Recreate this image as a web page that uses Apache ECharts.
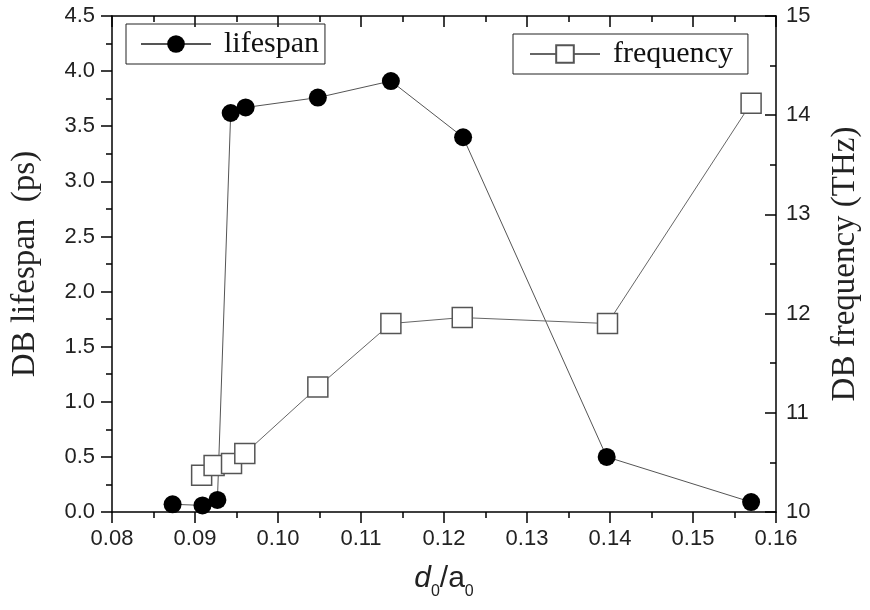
<!DOCTYPE html>
<html>
<head>
<meta charset="utf-8">
<script src="https://cdn.jsdelivr.net/npm/echarts@6/dist/echarts.min.js"></script>
<style>
    html, body { margin: 0; padding: 0; background: #fff; }
    #chart { width: 870px; height: 610px; }
</style>
</head>
<body>
<div id="chart"></div>
<script>
// d0/a0 positions and values
var lifeX = [0.0873, 0.0909, 0.0927, 0.0943, 0.0961, 0.1048, 0.1136, 0.1223, 0.1396, 0.1570];
var lifeY = [0.07, 0.06, 0.11, 3.62, 3.67, 3.76, 3.91, 3.40, 0.50, 0.09];

var freqX = [0.0908, 0.0923, 0.0944, 0.0960, 0.1048, 0.1136, 0.1222, 0.1397, 0.1570];
var freqY = [10.37, 10.47, 10.49, 10.59, 11.26, 11.90, 11.96, 11.90, 14.12];

var seriesNames = ['lifespan', 'frequency'];

(function () {
    var sans = 'Liberation Sans';
    var serif = 'Liberation Serif';

    function pairs(xs, ys) {
        return xs.map(function (x, i) { return [x, ys[i]]; });
    }

    function extend(a, b) {
        for (var k in b) { a[k] = b[k]; }
        return a;
    }

    //common axis look
    var line = { show: true, onZero: false, lineStyle: { color: '#000', width: 1.5 } };
    function tick(inside) {
        return { show: true, inside: inside, length: 11, lineStyle: { color: '#000', width: 1.5 } };
    }
    var minor = { show: true, splitNumber: 2, length: 6, lineStyle: { color: '#000', width: 1.5 } };
    var label = { fontFamily: sans, fontSize: 22, color: '#222' };

    function legendBox(name, left, top, pad) {
        return {
            data: [name],
            left: left,
            top: top,
            selectedMode: false,
            itemWidth: 70,
            itemHeight: 22,
            padding: pad,
            borderColor: '#222',
            borderWidth: 1,
            borderRadius: 0,
            textStyle: { fontFamily: serif, fontSize: 30, color: '#111', padding: [0, 0, 0, 8] }
        };
    }

    var option = {
        animation: false,
        backgroundColor: '#fff',
        grid: { left: 112, right: 87, top: 16, bottom: 98 },
        legend: [
            legendBox(seriesNames[0], 126, 24, [5, 6, 5, 14]),
            legendBox(seriesNames[1], 513, 34, [5, 15, 5, 16])
        ],
        xAxis: [
            {
                type: 'value', position: 'bottom', min: 0.08, max: 0.16, interval: 0.01,
                axisLine: line, axisTick: tick(false), minorTick: minor,
                splitLine: { show: false },
                axisLabel: extend({ margin: 16, formatter: function (v) { return v.toFixed(2); } }, label),
                name: '{i|d}{s|0}{n|/a}{s|0}',
                nameLocation: 'middle',
                nameGap: 52,
                nameTextStyle: {
                    rich: {
                        i: { fontFamily: sans, fontSize: 30, fontStyle: 'italic', color: '#222', lineHeight: 36, verticalAlign: 'top' },
                        n: { fontFamily: sans, fontSize: 30, color: '#222', lineHeight: 36, verticalAlign: 'top' },
                        s: { fontFamily: sans, fontSize: 16, color: '#222', lineHeight: 14, verticalAlign: 'bottom' }
                    }
                }
            },
            {
                type: 'value', position: 'top', min: 0.08, max: 0.16, interval: 0.01,
                axisLine: line, axisTick: tick(true), minorTick: minor,
                splitLine: { show: false }, axisLabel: { show: false }
            }
        ],
        yAxis: [
            {
                type: 'value', position: 'left', min: 0, max: 4.5, interval: 0.5,
                axisLine: line, axisTick: tick(false), minorTick: minor,
                splitLine: { show: false },
                axisLabel: extend({ margin: 17, formatter: function (v) { return v.toFixed(1); } }, label),
                name: 'DB lifespan  (ps)',
                nameLocation: 'middle',
                nameRotate: 90,
                nameGap: 70,
                nameTextStyle: { fontFamily: serif, fontSize: 33, color: '#222' }
            },
            {
                type: 'value', position: 'right', min: 10, max: 15, interval: 1,
                axisLine: line, axisTick: tick(true), minorTick: minor,
                splitLine: { show: false },
                axisLabel: extend({ margin: 10 }, label),
                name: 'DB frequency (THz)',
                nameLocation: 'middle',
                nameRotate: 90,
                nameGap: 53,
                nameTextStyle: { fontFamily: serif, fontSize: 33, color: '#222' }
            }
        ],
        series: [
            {
                name: seriesNames[0],
                type: 'line',
                xAxisIndex: 0,
                yAxisIndex: 0,
                data: pairs(lifeX, lifeY),
                symbol: 'circle',
                symbolSize: 18,
                itemStyle: { color: '#000' },
                lineStyle: { color: '#555', width: 1 },
                emphasis: { disabled: true }
            },
            {
                name: seriesNames[1],
                type: 'line',
                xAxisIndex: 0,
                yAxisIndex: 1,
                data: pairs(freqX, freqY),
                symbol: 'rect',
                symbolSize: 20,
                itemStyle: { color: '#fff', borderColor: '#555', borderWidth: 1.5 },
                lineStyle: { color: '#666', width: 1 },
                emphasis: { disabled: true }
            }
        ]
    };

    var chart = echarts.init(document.getElementById('chart'));
    chart.setOption(option);
})();
</script>
</body>
</html>
